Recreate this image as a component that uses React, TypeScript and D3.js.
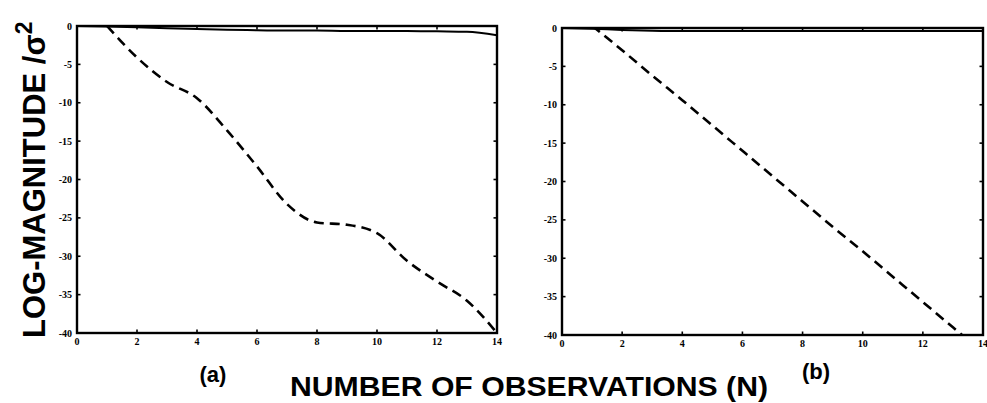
import React from "react";
import * as d3 from "d3";

// Observation counts along the horizontal axis
const xTicks = [0, 2, 4, 6, 8, 10, 12, 14];
const yTicks = [0, -5, -10, -15, -20, -25, -30, -35, -40];

// Panel (a)
const solidAN = [0, 1, 2, 3, 4, 5, 6, 7, 8, 9, 10, 11, 12, 13, 14];
const solidA = [0, -0.05, -0.15, -0.3, -0.4, -0.5, -0.55, -0.6, -0.6, -0.65, -0.65, -0.65, -0.7, -0.75, -1.2];
const dashedAN = [1, 2, 3, 4, 5, 6, 7, 8, 9, 10, 11, 12, 13, 14];
const dashedA = [0, -4.1, -7.3, -9.4, -13.6, -18.3, -23.2, -25.6, -25.9, -27.0, -30.6, -33.3, -35.8, -40];

// Panel (b)
const solidBN = [0, 1, 2, 3, 4, 5, 6, 7, 8, 9, 10, 11, 12, 13, 14];
const solidB = [0, -0.1, -0.25, -0.35, -0.4, -0.4, -0.4, -0.4, -0.4, -0.4, -0.4, -0.4, -0.4, -0.4, -0.4];
const dashedBN = [1, 2, 3, 4, 5, 6, 7, 8, 9, 10, 11, 12, 13, 14];
const dashedB = [0.3, -2.9, -6.2, -9.4, -12.7, -16.0, -19.3, -22.6, -25.9, -29.1, -32.4, -35.7, -39.0, -42.3];

type Box = { x0: number; x1: number; y0: number; y1: number };

const tickFont = "'Liberation Serif', serif";
const bigFont = "'Liberation Sans', Arial, sans-serif";

function Panel({
  id, box, solidN, solid, dashN, dash,
}: {
  id: string; box: Box; solidN: number[]; solid: number[]; dashN: number[]; dash: number[];
}) {
  const x = d3.scaleLinear().domain([0, 14]).range([box.x0, box.x1]);
  const y = d3.scaleLinear().domain([-40, 0]).range([box.y1, box.y0]);
  const line = d3
    .line<[number, number]>()
    .x((d) => x(d[0]))
    .y((d) => y(d[1]))
    .curve(d3.curveMonotoneX);
  const solidPath = line(solidN.map((n, i) => [n, solid[i]]) as [number, number][]) || "";
  const dashPath = line(dashN.map((n, i) => [n, dash[i]]) as [number, number][]) || "";
  const tl = 3.5;
  return (
    <g>
      <defs>
        <clipPath id={`clip-${id}`}>
          <rect x={box.x0} y={box.y0} width={box.x1 - box.x0} height={box.y1 - box.y0} />
        </clipPath>
      </defs>
      <g clipPath={`url(#clip-${id})`}>
        <path d={solidPath} fill="none" stroke="#000" strokeWidth={2} />
        <path d={dashPath} fill="none" stroke="#000" strokeWidth={2.6} strokeDasharray="10,6" />
      </g>
      <rect
        x={box.x0}
        y={box.y0}
        width={box.x1 - box.x0}
        height={box.y1 - box.y0}
        fill="none"
        stroke="#000"
        strokeWidth={2.4}
      />
      {yTicks.map((t) => (
        <g key={`y${t}`}>
          <line x1={box.x0} x2={box.x0 + tl} y1={y(t)} y2={y(t)} stroke="#000" strokeWidth={1.6} />
          <line x1={box.x1} x2={box.x1 - tl} y1={y(t)} y2={y(t)} stroke="#000" strokeWidth={1.6} />
          <text
            x={box.x0 - 5}
            y={y(t) + 3.5}
            textAnchor="end"
            fontFamily={tickFont}
            fontWeight="bold"
            fontSize={10}
          >
            {t}
          </text>
        </g>
      ))}
      {xTicks.map((t) => (
        <g key={`x${t}`}>
          <line x1={x(t)} x2={x(t)} y1={box.y1} y2={box.y1 - tl} stroke="#000" strokeWidth={1.6} />
          <line x1={x(t)} x2={x(t)} y1={box.y0} y2={box.y0 + tl} stroke="#000" strokeWidth={1.6} />
          <text
            x={x(t)}
            y={box.y1 + 12}
            textAnchor="middle"
            fontFamily={tickFont}
            fontWeight="bold"
            fontSize={10}
          >
            {t}
          </text>
        </g>
      ))}
    </g>
  );
}

export default function App() {
  const boxA: Box = { x0: 77, x1: 497, y0: 26, y1: 333 };
  const boxB: Box = { x0: 562, x1: 983, y0: 28, y1: 335 };
  return (
    <div style={{ position: "fixed", left: 0, top: 0 }}>
      <svg width={987} height={403} style={{ display: "block", background: "#fff" }}>
        <Panel id="a" box={boxA} solidN={solidAN} solid={solidA} dashN={dashedAN} dash={dashedA} />
        <Panel id="b" box={boxB} solidN={solidBN} solid={solidB} dashN={dashedBN} dash={dashedB} />
        <text
          transform="translate(45,338) rotate(-90)"
          fontFamily={bigFont}
          fontWeight="bold"
          fontSize={31}
        >
          LOG-MAGNITUDE /σ
          <tspan dy={-13} fontSize={23}>2</tspan>
        </text>
        <text x={213} y={382} textAnchor="middle" fontFamily={bigFont} fontWeight="bold" fontSize={22}>
          (a)
        </text>
        <text x={816} y={379} textAnchor="middle" fontFamily={bigFont} fontWeight="bold" fontSize={22}>
          (b)
        </text>
        <text
          x={529}
          y={396}
          textAnchor="middle"
          fontFamily={bigFont}
          fontWeight="bold"
          fontSize={28}
          textLength={478}
          lengthAdjust="spacingAndGlyphs"
        >
          NUMBER OF OBSERVATIONS (N)
        </text>
      </svg>
    </div>
  );
}
